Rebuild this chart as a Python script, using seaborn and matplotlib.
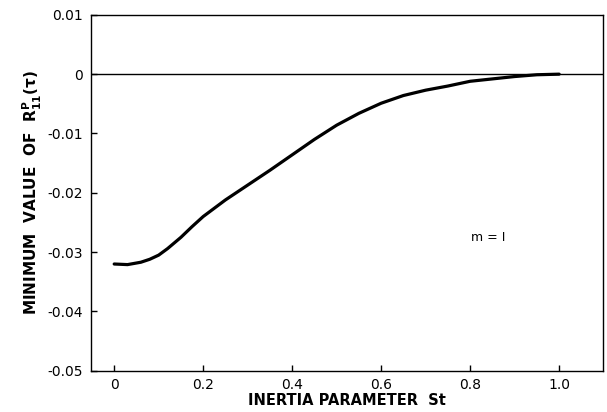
import matplotlib
matplotlib.use("Agg")
import matplotlib.pyplot as plt
import seaborn as sns
import pandas as pd

st = [0, 0.03, 0.06, 0.08, 0.1, 0.12, 0.15, 0.175, 0.2, 0.25, 0.3, 0.35, 0.4,
      0.45, 0.5, 0.55, 0.6, 0.65, 0.7, 0.75, 0.8, 0.85, 0.9, 0.95, 1.0]
rmin = [-0.0320, -0.0321, -0.0317, -0.0312, -0.0305, -0.0294, -0.0275, -0.0257,
        -0.0240, -0.0212, -0.0187, -0.0162, -0.0136, -0.0110, -0.0086, -0.0066,
        -0.0049, -0.0036, -0.0027, -0.0020, -0.0012, -0.0008, -0.0004, -0.0001, 0.0]
xticks = [0, 0.2, 0.4, 0.6, 0.8, 1.0]
xticklabels = ["0", "0.2", "0.4", "0.6", "0.8", "1.0"]
yticks = [0.01, 0, -0.01, -0.02, -0.03, -0.04, -0.05]
yticklabels = ["0.01", "0", "-0.01", "-0.02", "-0.03", "-0.04", "-0.05"]

sns.set_style("white")
plt.rcParams['font.family'] = ['DejaVu Sans']
plt.rcParams['text.color'] = 'black'
plt.rcParams['axes.labelcolor'] = 'black'
plt.rcParams['xtick.color'] = 'black'
plt.rcParams['ytick.color'] = 'black'

df = pd.DataFrame({"St": st, "R": rmin})
fig = plt.figure(figsize=(6.07, 4.12), dpi=100)
ax = fig.add_axes([0.150, 0.100, 0.843, 0.864])
sns.lineplot(data=df, x="St", y="R", ax=ax, color="black", linewidth=2.3,
             solid_capstyle="round", solid_joinstyle="round")
ax.axhline(0, color="black", linewidth=1.0)

ax.set_xlim(-0.052, 1.098)
ax.set_ylim(-0.05, 0.01)
ax.set_xticks(xticks)
ax.set_xticklabels(xticklabels)
ax.set_yticks(yticks)
ax.set_yticklabels(yticklabels)
ax.tick_params(axis="both", direction="in", length=4, width=1, labelsize=10,
               colors="black", bottom=True, left=True, top=False, right=False)
ax.tick_params(axis="x", pad=5)
ax.tick_params(axis="y", pad=6)
for s in ax.spines.values():
    s.set_color("black")
    s.set_linewidth(1.0)

ax.set_xlabel("INERTIA PARAMETER  St", fontsize=10.5, fontweight="bold", labelpad=1)
ax.set_ylabel(r"MINIMUM  VALUE  OF  $\mathbf{R^P_{11}(\tau)}$", fontsize=11,
              fontweight="bold", labelpad=2)
ax.text(0.84, -0.0276, "m = I", fontsize=9, ha="center", va="center")

fig.savefig("out.png", dpi=100)
